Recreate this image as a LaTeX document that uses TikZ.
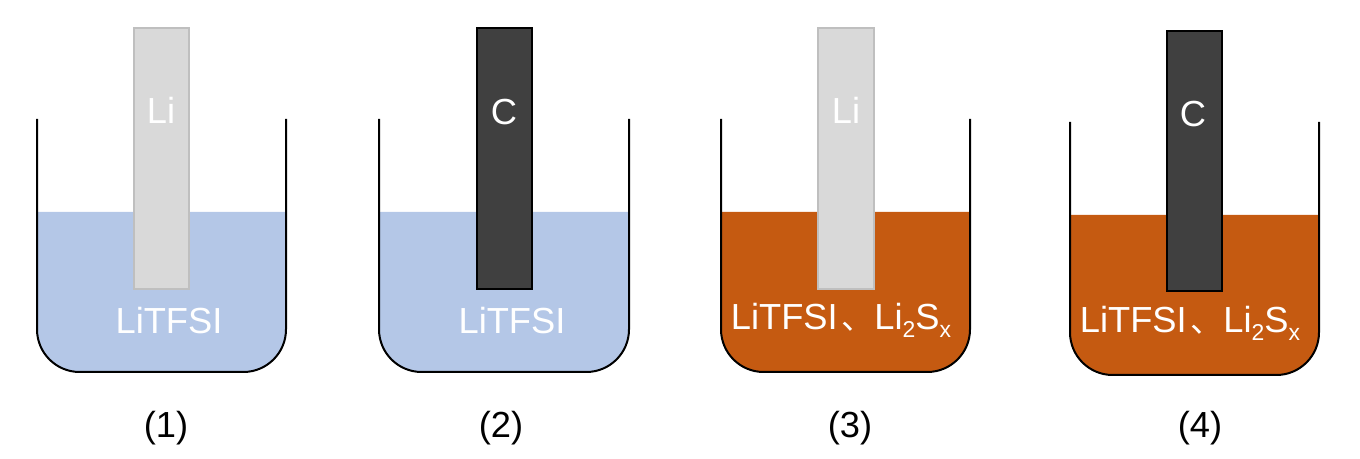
\documentclass[tikz,border=0pt]{standalone}
\usepackage{fontspec}
\setmainfont{Liberation Sans}
\newfontfamily\cjkfont{Noto Sans CJK SC}
\usetikzlibrary{positioning}
\definecolor{bluesol}{HTML}{B4C7E7}
\definecolor{brownsol}{HTML}{C55A11}
\definecolor{lifill}{HTML}{D9D9D9}
\definecolor{liedge}{HTML}{BFBFBF}
\definecolor{cfill}{HTML}{404040}
\tikzset{
  wall/.style={draw=black,line width=1.5pt,rounded corners=32pt},
  electrode/.style={minimum width=41pt,minimum height=195.5pt,inner sep=0pt,line width=1.5pt},
  lirod/.style={electrode,draw=liedge,fill=lifill},
  crod/.style={electrode,draw=black,fill=cfill},
  whitelabel/.style={text=white,font=\fontsize{27.2}{30}\selectfont,inner sep=0pt,anchor=base},
  caption/.style={text=black,font=\fontsize{27.2}{30}\selectfont,inner sep=0pt,anchor=base}
}
\newcommand{\lowered}[1]{\raisebox{-6pt}{\fontsize{17.2}{20}\selectfont #1}}
\newcommand{\mixlabel}{LiTFSI\hspace{3pt}{\cjkfont\fontsize{24.5}{30}\selectfont 、}Li\lowered{2}S\lowered{x}}
\begin{document}
\begin{tikzpicture}[x=.75pt,y=-.75pt]
\useasboundingbox (0,0) rectangle (1360,459);
% solutions
\fill[bluesol] (37,212) [rounded corners=32pt] -- (37,372) -- (286,372) [sharp corners] -- (286,212) -- cycle;
\fill[bluesol] (379,212) [rounded corners=32pt] -- (379,372) -- (629,372) [sharp corners] -- (629,212) -- cycle;
\fill[brownsol] (721,212) [rounded corners=32pt] -- (721,372) -- (970,372) [sharp corners] -- (970,212) -- cycle;
\fill[brownsol] (1070,215) [rounded corners=32pt] -- (1070,375) -- (1319,375) [sharp corners] -- (1319,215) -- cycle;
% electrodes
\node[lirod] (rod1) at (161.5,158.5) {};
\node[crod] (rod2) at (504.5,158.5) {};
\node[lirod,minimum width=42pt] (rod3) at (846,158.5) {};
\node[crod] (rod4) at (1194.5,161) {};
% beakers
\draw[wall] (37,119) -- (37,372) -- (286,372) -- (286,119);
\draw[wall] (379,119) -- (379,372) -- (629,372) -- (629,119);
\draw[wall] (721,119) -- (721,372) -- (970,372) -- (970,119);
\draw[wall] (1070,122) -- (1070,375) -- (1319,375) -- (1319,122);
% labels
\node[whitelabel] (li1) at (161,124) {Li};
\node[whitelabel] (c2) at (504,125) {C};
\node[whitelabel] (li3) at (846,124) {Li};
\node[whitelabel] (c4) at (1193,127) {C};
\node[whitelabel] (sol1) at (169,334) {LiTFSI};
\node[whitelabel] (sol2) at (512,334) {LiTFSI};
\node[whitelabel] (sol3) at (841,330) {\mixlabel};
\node[whitelabel] (sol4) at (1190,333) {\mixlabel};
\node[caption] (cap1) at (166,437) {(1)};
\node[caption] (cap2) at (501,437) {(2)};
\node[caption] (cap3) at (850,437) {(3)};
\node[caption] (cap4) at (1200,437) {(4)};
\end{tikzpicture}
\end{document}
